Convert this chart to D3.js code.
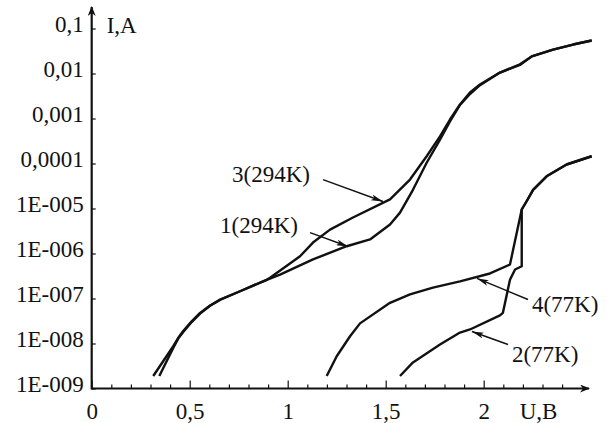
<!DOCTYPE html>
<html>
<head>
<meta charset="utf-8">
<script src="https://cdn.jsdelivr.net/npm/d3@7"></script>
<style>
  body { margin: 0; background: #fff; }
</style>
</head>
<body>
<svg id="chart" width="611" height="423"></svg>
<script>
// axis ticks
const xTicks = [0, 0.5, 1, 1.5, 2];
const xTickLabels = ["0", "0,5", "1", "1,5", "2"];
const xMinorTicks = d3.range(1, 25).map(d => d / 10);
const yTicks = [1e-9, 1e-8, 1e-7, 1e-6, 1e-5, 1e-4, 1e-3, 1e-2, 1e-1];
const yTickLabels = ["1E-009", "1E-008", "1E-007", "1E-006", "1E-005", "0,0001", "0,001", "0,01", "0,1"];

// curve 1 (294K)
const curve1U = [0.314, 0.416, 0.442, 0.467, 0.51, 0.553, 0.604, 0.655, 0.757, 0.893, 0.961, 1.129, 1.301, 1.42, 1.522, 1.573, 1.639, 1.709, 1.777, 1.828, 1.879, 1.93, 1.981, 2.083, 2.185, 2.245, 2.354, 2.456, 2.551];
const curve1I = [1.9e-9, 8.7e-9, 1.34e-8, 1.9e-8, 3.1e-8, 4.8e-8, 7.0e-8, 9.5e-8, 1.45e-7, 2.6e-7, 3.4e-7, 7.4e-7, 1.45e-6, 2.05e-6, 4.4e-6, 8.1e-6, 2.6e-5, 1.04e-4, 3.4e-4, 8.6e-4, 2.0e-3, 3.5e-3, 5.5e-3, 1.05e-2, 1.55e-2, 2.4e-2, 3.4e-2, 4.4e-2, 5.4e-2];
// curve 3 (294K)
const curve3U = [0.345, 0.416, 0.442, 0.467, 0.51, 0.553, 0.604, 0.655, 0.757, 0.893, 0.91, 1.063, 1.129, 1.216, 1.333, 1.522, 1.624, 1.709, 1.777, 1.828, 1.879, 1.93, 1.981, 2.083, 2.185, 2.245, 2.354, 2.456, 2.551];
const curve3I = [1.9e-9, 8.0e-9, 1.3e-8, 1.8e-8, 3.0e-8, 4.6e-8, 6.9e-8, 9.3e-8, 1.45e-7, 2.6e-7, 2.9e-7, 8.7e-7, 1.75e-6, 3.4e-6, 6.3e-6, 1.6e-5, 4.4e-5, 1.45e-4, 4.0e-4, 9.5e-4, 2.05e-3, 3.8e-3, 5.7e-3, 1.05e-2, 1.6e-2, 2.4e-2, 3.4e-2, 4.4e-2, 5.4e-2];
// curve 4 (77K)
const curve4U = [1.199, 1.25, 1.318, 1.369, 1.522, 1.624, 1.741, 1.879, 2.032, 2.134, 2.194, 2.219, 2.252, 2.321, 2.423, 2.551];
const curve4I = [1.9e-9, 5.2e-9, 1.45e-8, 2.8e-8, 8.0e-8, 1.23e-7, 1.75e-7, 2.4e-7, 3.6e-7, 5.7e-7, 9.5e-6, 1.45e-5, 2.6e-5, 5.2e-5, 9.5e-5, 1.45e-4];
// curve 2 (77K)
const curve2U = [1.573, 1.639, 1.777, 1.879, 1.93, 2.083, 2.098, 2.134, 2.16, 2.194, 2.194, 2.219, 2.252, 2.321, 2.423, 2.551];
const curve2I = [1.9e-9, 3.8e-9, 9.5e-9, 1.75e-8, 2.05e-8, 4.2e-8, 4.8e-8, 2.6e-7, 4.4e-7, 5.2e-7, 9.5e-6, 1.45e-5, 2.6e-5, 5.2e-5, 9.5e-5, 1.45e-4];

// curve labels: text position and arrow (from -> to), in U / I units
const labelNames = ["3(294K)", "1(294K)", "4(77K)", "2(77K)"];
const labelU = [0.716, 0.655, 2.246, 2.144];
const labelI = [3.8e-5, 2.9e-6, 5.1e-8, 3.8e-9];
const arrowFromU = [1.18, 1.114, 2.226, 2.124];
const arrowFromI = [4.4e-5, 2.9e-6, 9.5e-8, 9.5e-9];
const arrowToU = [1.486, 1.308, 1.966, 1.94];
const arrowToI = [1.43e-5, 1.43e-6, 2.8e-7, 1.85e-8];

const svg = d3.select("#chart");
const fontFamily = "'Liberation Serif', Tinos, 'Times New Roman', 'DejaVu Serif', serif";
const fontSize = 23;

const x = d3.scaleLinear().domain([0, 2.5]).range([91.7, 581.7]);
const y = d3.scaleLog().domain([1e-9, 0.1]).range([388.5, 28.5]);

// arrowheads
const defs = svg.append("defs");
defs.append("marker")
  .attr("id", "head")
  .attr("markerUnits", "userSpaceOnUse")
  .attr("viewBox", "0 0 12 6")
  .attr("refX", 12).attr("refY", 3)
  .attr("markerWidth", 12).attr("markerHeight", 6)
  .attr("orient", "auto")
  .append("path")
  .attr("d", "M0,0 L12,3 L0,6 L3,3 z")
  .attr("fill", "#111");
defs.append("marker")
  .attr("id", "axisHead")
  .attr("markerUnits", "userSpaceOnUse")
  .attr("viewBox", "0 0 10 8")
  .attr("refX", 9).attr("refY", 4)
  .attr("markerWidth", 10).attr("markerHeight", 8)
  .attr("orient", "auto")
  .append("path")
  .attr("d", "M0,0 L10,4 L0,8 L3,4 z")
  .attr("fill", "#111");

// x axis
const xAxis = svg.append("g")
  .attr("transform", "translate(0," + y(1e-9) + ")")
  .call(d3.axisBottom(x).tickValues(xTicks).tickSize(-8).tickPadding(14)
    .tickFormat((d, i) => xTickLabels[i]))
  .attr("font-family", fontFamily)
  .attr("font-size", fontSize);
xAxis.select(".domain").remove();
xAxis.selectAll(".tick line").attr("stroke", "#111").attr("stroke-width", 1.2);
xAxis.selectAll("text").attr("fill", "#111");

svg.append("g")
  .attr("transform", "translate(0," + y(1e-9) + ")")
  .call(d3.axisBottom(x).tickValues(xMinorTicks.filter(d => d % 0.5 !== 0)).tickSize(-4).tickFormat(""))
  .call(g => g.select(".domain").remove())
  .selectAll(".tick line").attr("stroke", "#111").attr("stroke-width", 1.2);

svg.append("line")
  .attr("x1", x(0)).attr("x2", 589)
  .attr("y1", y(1e-9)).attr("y2", y(1e-9))
  .attr("stroke", "#111").attr("stroke-width", 2.2)
  .attr("marker-end", "url(#axisHead)");

svg.append("text")
  .attr("x", x(2.28)).attr("y", 419)
  .attr("text-anchor", "middle")
  .attr("font-family", fontFamily)
  .attr("font-size", fontSize)
  .attr("fill", "#111")
  .text("U,B");

// y axis
const yAxis = svg.append("g")
  .attr("transform", "translate(" + x(0) + ",0)")
  .call(d3.axisLeft(y).tickValues(yTicks).tickSize(-4).tickPadding(8)
    .tickFormat((d, i) => yTickLabels[i]))
  .attr("font-family", fontFamily)
  .attr("font-size", fontSize);
yAxis.select(".domain").remove();
yAxis.selectAll(".tick line").attr("stroke", "#111").attr("stroke-width", 1.2);
yAxis.selectAll("text").attr("dy", "0.14em").attr("fill", "#111");

svg.append("line")
  .attr("x1", x(0)).attr("x2", x(0))
  .attr("y1", y(1e-9) + 1).attr("y2", 7)
  .attr("stroke", "#111").attr("stroke-width", 2.2)
  .attr("marker-end", "url(#axisHead)");

svg.append("text")
  .attr("x", x(0) + 15).attr("y", 33)
  .attr("font-family", fontFamily)
  .attr("font-size", fontSize)
  .attr("fill", "#111")
  .text("I,A");

// curves
const line = d3.line()
  .x(d => x(d[0]))
  .y(d => y(d[1]));

const curves = [
  [curve1U, curve1I],
  [curve3U, curve3I],
  [curve4U, curve4I],
  [curve2U, curve2I]
];
curves.forEach(c => {
  svg.append("path")
    .datum(c[0].map((u, i) => [u, c[1][i]]))
    .attr("d", line)
    .attr("fill", "none")
    .attr("stroke", "#111")
    .attr("stroke-width", 2.4)
    .attr("stroke-linejoin", "round");
});

// labels with arrows
labelNames.forEach((name, i) => {
  svg.append("text")
    .attr("x", x(labelU[i])).attr("y", y(labelI[i]))
    .attr("font-family", fontFamily)
    .attr("font-size", fontSize)
    .attr("fill", "#111")
    .text(name);
  svg.append("line")
    .attr("x1", x(arrowFromU[i])).attr("y1", y(arrowFromI[i]))
    .attr("x2", x(arrowToU[i])).attr("y2", y(arrowToI[i]))
    .attr("stroke", "#111").attr("stroke-width", 1.4)
    .attr("marker-end", "url(#head)");
});
</script>
</body>
</html>
